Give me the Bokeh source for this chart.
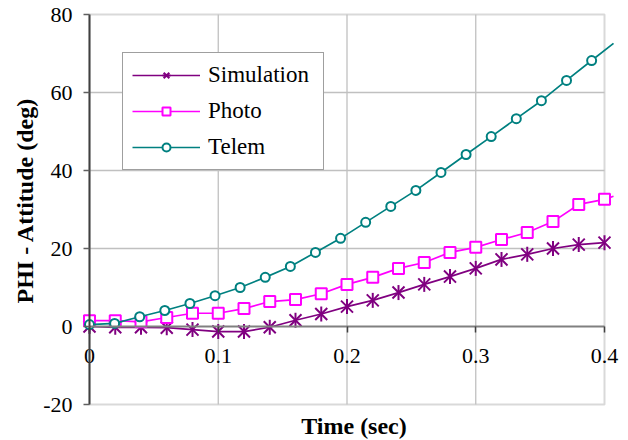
import math
from bokeh.plotting import figure
from bokeh.models import (LinearAxis, FixedTicker, Legend, LegendItem, BoxAnnotation,
                          ColumnDataSource, CDSView, BooleanFilter, Range1d,
                          NumeralTickFormatter, Label)
from bokeh.embed import file_html
from bokeh.resources import INLINE

# ---------------- data ----------------
sim_t = [0.00, 0.02, 0.04, 0.06, 0.08, 0.10, 0.12, 0.14, 0.16, 0.18, 0.20,
         0.22, 0.24, 0.26, 0.28, 0.30, 0.32, 0.34, 0.36, 0.38, 0.40]
sim_phi = [0.0, -0.2, -0.2, -0.3, -0.8, -1.3, -1.3, -0.2, 1.6, 3.2, 5.1,
           6.7, 8.7, 10.8, 12.8, 14.9, 17.2, 18.5, 20.0, 21.0, 21.5]

# last entry of Photo / Telem: where the curve leaves the plot area
photo_t = [0.00, 0.02, 0.04, 0.06, 0.08, 0.10, 0.12, 0.14, 0.16, 0.18, 0.20,
           0.22, 0.24, 0.26, 0.28, 0.30, 0.32, 0.34, 0.36, 0.38, 0.40, 0.407]
photo_phi = [1.5, 1.5, 1.2, 2.3, 3.4, 3.4, 4.6, 6.4, 6.9, 8.4, 10.8,
             12.6, 14.9, 16.4, 19.0, 20.3, 22.3, 24.1, 26.9, 31.3, 32.6, 33.4]

telem_t = [0.0, 0.0195, 0.039, 0.0585, 0.078, 0.0975, 0.117, 0.1365, 0.156, 0.1755,
           0.195, 0.2145, 0.234, 0.2535, 0.273, 0.2925, 0.312, 0.3315, 0.351,
           0.3705, 0.39, 0.407]
telem_phi = [0.5, 0.8, 2.5, 4.1, 5.9, 7.9, 10.0, 12.6, 15.4, 19.0,
             22.6, 26.7, 30.8, 34.9, 39.5, 44.1, 48.7, 53.3, 57.9,
             63.1, 68.2, 72.6]

series_names = ["Simulation", "Photo", "Telem"]
x_ticks = [0.0, 0.1, 0.2, 0.3, 0.4]
y_ticks = [-20, 0, 20, 40, 60, 80]
x_axis_min, x_axis_max = 0.0, 0.4
y_axis_min, y_axis_max = -20, 80
x_cross = 0
x_title = "Time (sec)"
y_title = "PHI - Attitude (deg)"

# ---------------- layout / styles ----------------
W, H = 628, 440
PX_X = 1287.5          # pixels per second
PX_Y = 3.9             # pixels per degree
LEFT_PX, TOP_PX = 89, 14   # canvas position of the (0, 80) corner
FONT = "'Liberation Serif', 'Times New Roman', Times, serif"
PURPLE = "#800080"
MAGENTA = "#FF00FF"
TEAL = "#008080"
GRID = "#C0C0C0"
FRAME = "#808080"

x_start = x_axis_min - LEFT_PX / PX_X
x_end = x_start + W / PX_X
y_end = y_axis_max + TOP_PX / PX_Y
y_start = y_end - H / PX_Y

p = figure(width=W, height=H, output_backend="svg", toolbar_location=None,
           x_range=Range1d(x_start, x_end), y_range=Range1d(y_start, y_end),
           min_border=0, x_axis_location=None, y_axis_location=None)
p.outline_line_color = None
p.grid.visible = False
p.background_fill_color = "white"
p.border_fill_color = "white"

# grid lines limited to the axis box
p.segment(x0=x_ticks[1:-1], x1=x_ticks[1:-1], y0=y_axis_min, y1=y_axis_max,
          line_color=GRID, line_width=1.3)
p.segment(x0=x_axis_min, x1=x_axis_max, y0=y_ticks[2:-1], y1=y_ticks[2:-1],
          line_color=GRID, line_width=1.3)
p.add_layout(BoxAnnotation(left=x_axis_min, right=x_axis_max, bottom=y_axis_min,
                           top=y_axis_max, fill_color=None, line_color=FRAME,
                           line_width=2, level="underlay"))

# y axis at x = 0
ya = LinearAxis(fixed_location=x_axis_min, ticker=FixedTicker(ticks=y_ticks),
                bounds=(y_axis_min, y_axis_max),
                formatter=NumeralTickFormatter(format="0"))
ya.axis_line_color = "#404040"
ya.axis_line_width = 2
ya.major_tick_line_color = "#606060"
ya.major_tick_line_width = 1.5
ya.major_tick_out = 6
ya.major_tick_in = 0
ya.minor_tick_line_color = None
ya.major_label_text_font = FONT
ya.major_label_text_font_size = "22px"
ya.major_label_text_color = "black"
ya.major_label_standoff = 11
p.add_layout(ya, "left")

# x axis crossing at y = 0
xa = LinearAxis(fixed_location=x_cross, ticker=FixedTicker(ticks=x_ticks),
                bounds=(x_axis_min, x_axis_max),
                formatter=NumeralTickFormatter(format="0.[0]"))
xa.axis_line_color = FRAME
xa.axis_line_width = 2
xa.major_tick_line_color = "#404040"
xa.major_tick_line_width = 1.5
xa.major_tick_out = 6
xa.major_tick_in = 0
xa.minor_tick_line_color = None
xa.major_label_text_font = FONT
xa.major_label_text_font_size = "22px"
xa.major_label_text_color = "black"
xa.major_label_standoff = 16
p.add_layout(xa, "below")

# axis titles
p.add_layout(Label(x=(x_axis_min + x_axis_max) / 2, y=y_axis_min, x_offset=7, y_offset=-21,
                   text=x_title, text_align="center", text_baseline="middle",
                   text_font=FONT, text_font_size="24px", text_font_style="bold",
                   text_color="black"))
p.add_layout(Label(x=x_axis_min, y=(y_axis_min + y_axis_max) / 2, x_offset=-65, y_offset=9,
                   angle=math.pi / 2, text=y_title, text_align="center",
                   text_baseline="middle", text_font=FONT, text_font_size="24px",
                   text_font_style="bold", text_color="black"))

# series
sim_src = ColumnDataSource(dict(t=sim_t, phi=sim_phi))
photo_src = ColumnDataSource(dict(t=photo_t, phi=photo_phi))
telem_src = ColumnDataSource(dict(t=telem_t, phi=telem_phi))
photo_view = CDSView(filter=BooleanFilter([t <= x_axis_max + 1e-9 for t in photo_t]))
telem_view = CDSView(filter=BooleanFilter([t <= x_axis_max + 1e-9 for t in telem_t]))

LW = 1.7
sim_line = p.line("t", "phi", source=sim_src, line_color=PURPLE, line_width=LW)
sim_x = p.scatter("t", "phi", source=sim_src, marker="x", size=17,
                  line_color=PURPLE, line_width=2)
sim_bar = p.scatter("t", "phi", source=sim_src, marker="dash", angle=math.pi / 2,
                    size=15, line_color=PURPLE, line_width=2)

photo_line = p.line("t", "phi", source=photo_src, line_color=MAGENTA, line_width=LW)
photo_pts = p.scatter("t", "phi", source=photo_src, view=photo_view, marker="square",
                      size=11, line_color=MAGENTA, fill_color="white", line_width=2)

telem_line = p.line("t", "phi", source=telem_src, line_color=TEAL, line_width=LW)
telem_pts = p.scatter("t", "phi", source=telem_src, view=telem_view, marker="circle",
                      size=9, line_color=TEAL, fill_color="white", line_width=2)

legend = Legend(items=[
    LegendItem(label=series_names[0], renderers=[sim_line, sim_x, sim_bar]),
    LegendItem(label=series_names[1], renderers=[photo_line, photo_pts]),
    LegendItem(label=series_names[2], renderers=[telem_line, telem_pts]),
], location=(122, 270))
legend.label_text_font = FONT
legend.label_text_font_size = "23px"
legend.label_text_color = "black"
legend.glyph_width = 68
legend.glyph_height = 20
legend.label_height = 20
legend.label_width = 106
legend.label_standoff = 8
legend.spacing = 10
legend.padding = 9
legend.margin = 0
legend.border_line_color = "#404040"
legend.border_line_width = 1.5
legend.background_fill_color = "white"
legend.background_fill_alpha = 1.0
p.add_layout(legend, "center")

open("out.html", "w").write(file_html(p, INLINE))
